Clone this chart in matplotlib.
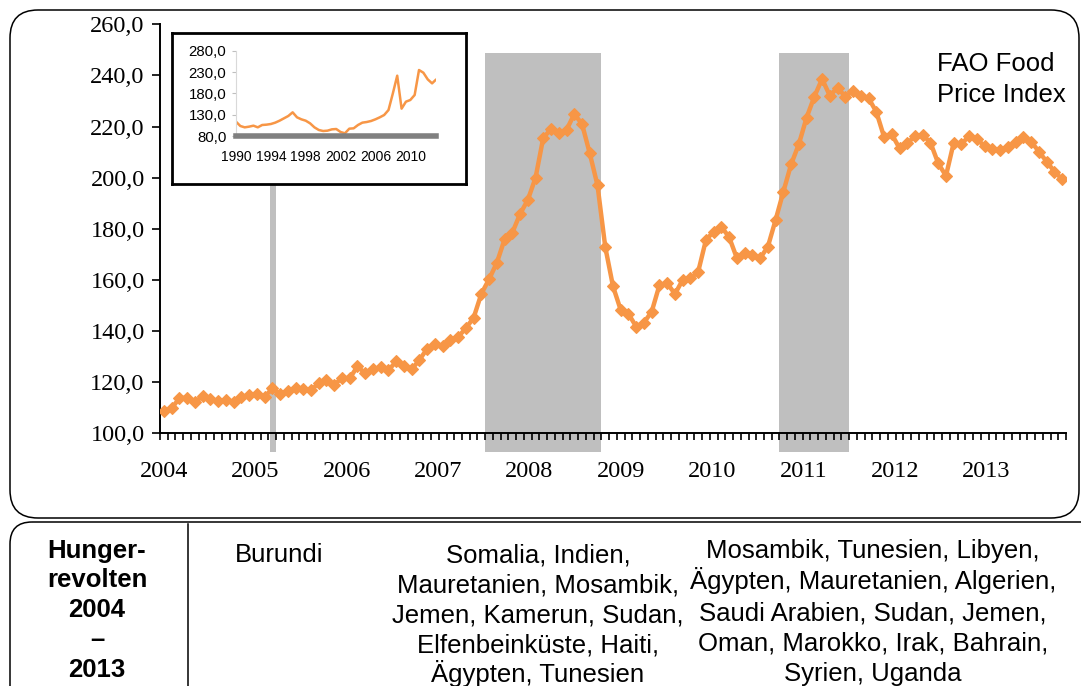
import matplotlib
matplotlib.use("Agg")
import matplotlib.pyplot as plt
from matplotlib.patches import FancyBboxPatch
import numpy as np

# FAO Food Price Index, monthly Jan 2004 - Sep 2013
fao_index = [
    108.8, 109.8, 113.7, 114.0, 112.2, 114.5, 113.5, 112.6, 113.0, 112.2, 114.2, 115.0,
    115.5, 114.1, 117.6, 115.2, 116.6, 117.8, 117.2, 116.9, 119.6, 120.9, 118.9, 121.7,
    121.5, 126.2, 123.4, 125.0, 125.8, 124.6, 128.2, 126.3, 125.0, 128.7, 133.1, 134.9,
    134.2, 136.6, 137.7, 141.1, 145.2, 154.6, 160.3, 166.7, 175.9, 178.5, 185.8, 191.3,
    200.0, 215.7, 218.9, 217.4, 218.7, 224.9, 221.0, 209.5, 197.0, 172.9, 157.5, 148.2,
    146.7, 141.7, 143.3, 147.6, 158.0, 158.7, 154.5, 160.0, 160.6, 163.2, 175.6, 178.9,
    180.8, 176.7, 168.5, 170.7, 169.8, 168.5, 173.0, 183.5, 194.5, 205.2, 213.1, 223.5,
    231.7, 238.6, 232.1, 235.2, 231.7, 233.9, 232.1, 231.1, 225.8, 216.0, 217.0, 211.5,
    213.5, 216.2, 216.7, 213.7, 205.6, 200.7, 213.7, 213.2, 216.3, 215.0, 212.4, 211.1,
    210.8, 211.9, 214.1, 216.0, 214.1, 210.2, 206.3, 202.4, 199.4,
]
years = ["2004", "2005", "2006", "2007", "2008", "2009", "2010", "2011", "2012", "2013"]

# periods with hunger revolts (month index from Jan 2004: centre, width)
revolt_center = [14.1, 49.0, 84.0]
revolt_width = [0.8, 15.0, 9.0]

# long-term index for the inset, 1990 - 2012
inset_year = [1990.0, 1990.5, 1991.0, 1991.5, 1992.0, 1992.5, 1993.0, 1993.5, 1994.0, 1994.5,
              1995.0, 1995.5, 1996.0, 1996.5, 1997.0, 1997.5, 1998.0, 1998.5, 1999.0, 1999.5,
              2000.0, 2000.5, 2001.0, 2001.5, 2002.0, 2002.5, 2003.0, 2003.5, 2004.0, 2004.5,
              2005.0, 2005.5, 2006.0, 2006.5, 2007.0, 2007.5, 2008.0, 2008.5, 2009.0, 2009.5,
              2010.0, 2010.5, 2011.0, 2011.5, 2012.0, 2012.5, 2012.9]
inset_value = [113.6, 103.4, 100.3, 101.9, 104.2, 100.3, 105.8, 106.6, 108.1, 111.3,
               115.9, 121.4, 126.9, 135.5, 123.8, 119.1, 115.9, 109.7, 100.3, 94.1,
               91.7, 92.5, 95.6, 96.4, 89.4, 86.3, 97.2, 98.0, 105.8, 111.3,
               112.8, 115.2, 119.1, 123.8, 129.2, 140.9, 180.0, 221.4, 144.1, 160.5,
               164.4, 176.1, 234.7, 228.4, 212.8, 203.4, 211.3]

col_label = ["Hunger-", "revolten", "2004", "–", "2013"]
col_burundi = ["Burundi"]
col_2008 = ["Somalia, Indien,", "Mauretanien, Mosambik,", "Jemen, Kamerun, Sudan,",
            "Elfenbeinküste, Haiti,", "Ägypten, Tunesien"]
col_2011 = ["Mosambik, Tunesien, Libyen,", "Ägypten, Mauretanien, Algerien,",
            "Saudi Arabien, Sudan, Jemen,", "Oman, Marokko, Irak, Bahrain,", "Syrien, Uganda"]

W, H = 1081, 686
ORANGE = "#F79646"
GREY = "#BFBFBF"
SERIF = "Liberation Serif"
SANS = "Liberation Sans"


def frac(x0, y0, x1, y1):
    return [x0 / W, 1 - y1 / H, (x1 - x0) / W, (y1 - y0) / H]


fig = plt.figure(figsize=(W / 100, H / 100), dpi=100)

# background layer in pixel coordinates: frames and the table text
bg = fig.add_axes([0, 0, 1, 1])
bg.set_xlim(0, W)
bg.set_ylim(H, 0)
bg.axis("off")
bg.add_patch(FancyBboxPatch((10, 10), 1069, 508, boxstyle="round,pad=0,rounding_size=28",
                            fill=False, ec="black", lw=1.1))
bg.add_patch(FancyBboxPatch((10, 522), 1100, 300, boxstyle="round,pad=0,rounding_size=22",
                            fill=False, ec="black", lw=1.1))
bg.plot([188, 188], [524, 686], color="black", lw=1.1)

fs = 18.5
for txt, yb in zip(col_label, [558, 587, 617, 647, 677]):
    bg.text(97, yb, txt, ha="center", va="baseline", fontsize=fs, fontweight="bold", family=SANS)
bg.text(235, 562, col_burundi[0], ha="left", va="baseline", fontsize=fs, family=SANS)
for txt, yb in zip(col_2008, [562, 592, 622, 652, 682]):
    bg.text(538, yb, txt, ha="center", va="baseline", fontsize=fs, family=SANS)
for txt, yb in zip(col_2011, [558, 589, 620, 650, 681]):
    bg.text(873, yb, txt, ha="center", va="baseline", fontsize=fs, family=SANS)

# main chart
ax = fig.add_axes(frac(160, 24.3, 1066, 433.3))
ax.patch.set_alpha(0)
x = np.arange(len(fao_index))
ax.bar(revolt_center, [248.8 - 92.7] * 3, width=revolt_width, bottom=92.7, color=GREY,
       clip_on=False, zorder=1)
ax.plot(x, fao_index, color=ORANGE, lw=3.2, marker="D", ms=6, mec=ORANGE, mew=0.8, zorder=3)
ax.set_xlim(-0.5, len(fao_index) - 0.5)
ax.set_ylim(100, 260)
ax.set_yticks(np.arange(100, 261, 20))
ax.set_yticklabels([f"{v:.1f}".replace(".", ",") for v in np.arange(100, 261, 20)],
                   family=SERIF, fontsize=17.5)
# year labels sit slightly left of the January points, as in the original layout
ax.set_xticks(np.arange(len(years)) * 11.8)
ax.set_xticklabels(years, family=SERIF, fontsize=17.5)
ax.set_xticks(np.arange(-0.5, len(fao_index), 1), minor=True)
ax.tick_params(axis="x", which="major", length=0, pad=20)
ax.tick_params(axis="x", which="minor", length=5, width=1.2, direction="out")
ax.tick_params(axis="y", length=6, width=1.2, pad=5)
for s in ["top", "right"]:
    ax.spines[s].set_visible(False)
for s in ["left", "bottom"]:
    ax.spines[s].set_linewidth(1.4)
ax.text(937, 71, "FAO Food", transform=bg.transData, fontsize=fs, family=SANS, va="baseline")
ax.text(937, 102, "Price Index", transform=bg.transData, fontsize=fs, family=SANS, va="baseline")

# inset frame
frame = fig.add_axes(frac(172, 33, 466, 184))
frame.set_xticks([])
frame.set_yticks([])
frame.set_facecolor("white")
for s in frame.spines.values():
    s.set_linewidth(2)

ins = fig.add_axes(frac(236, 50.7, 436, 136))
ins.patch.set_alpha(0)
ins.plot(inset_year, inset_value, color=ORANGE, lw=1.8)
ins.set_xlim(1990.1, 2012.95)
ins.set_ylim(80, 280)
ins.set_yticks([80, 130, 180, 230, 280])
ins.set_yticklabels(["80,0", "130,0", "180,0", "230,0", "280,0"], fontsize=10.8, family=SANS)
ins.set_xticks([1990, 1994, 1998, 2002, 2006, 2010])
ins.set_xticklabels(["1990", "1994", "1998", "2002", "2006", "2010"], fontsize=10, family=SANS)
ins.tick_params(axis="x", length=0, pad=10)
ins.tick_params(axis="y", length=3, color="#BFBFBF", pad=4)
ins.spines["top"].set_visible(False)
ins.spines["right"].set_visible(False)
ins.spines["left"].set_color("#D9D9D9")
ins.spines["bottom"].set_color("#808080")
ins.spines["bottom"].set_linewidth(4)

fig.savefig("out.png", dpi=100)
